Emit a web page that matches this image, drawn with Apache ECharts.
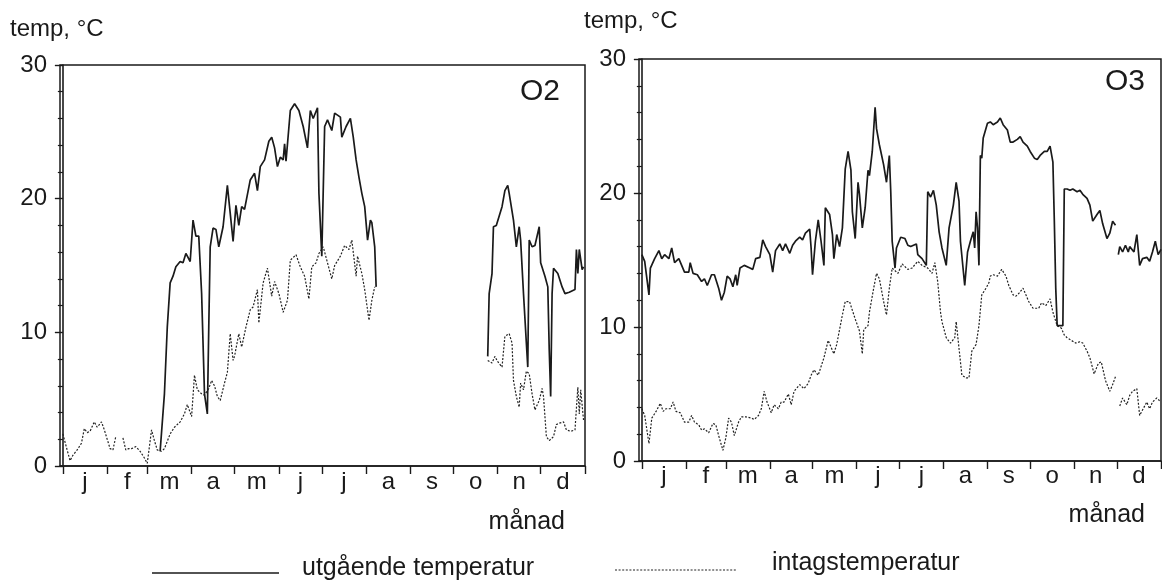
<!DOCTYPE html>
<html><head><meta charset="utf-8">
<script src="https://cdn.jsdelivr.net/npm/echarts@6/dist/echarts.min.js"></script>
<style>html,body{margin:0;padding:0;background:#fff}#c{width:1162px;height:580px}</style>
</head><body><div id="c"></div>
<script>
// ---- data ----
const monthLabels = ['j','f','m','a','m','j','j','a','s','o','n','d'];
const monthStarts = [0,31,59,90,120,151,181,212,243,273,304,334,365];
const yLabels = [0,10,20,30];
const panelNames = ['O2','O3'];
const legendNames = ['utgående temperatur','intagstemperatur'];

// [day of year, °C]; null = gap in record
const o2Out = [[68,1.1],[71,5.4],[73,10.4],[75,13.7],[77,14.2],[79,14.9],[82,15.3],[84,15.2],[86,15.9],[89,15.3],[91,18.4],[93,17.2],[95,17.2],[97,12.9],[99,5.4],[101,3.9],[102,10.4],[103,16.4],[105,17.8],[107,17.7],[109,16.4],[112,17.9],[115,21.0],[119,16.8],[121,19.5],[123,18.0],[125,19.4],[127,19.2],[131,21.4],[134,21.9],[136,20.6],[138,22.4],[141,22.9],[144,24.3],[146,24.6],[148,23.8],[150,22.4],[152,23.1],[154,22.9],[155,24.1],[156,22.8],[159,26.6],[162,27.1],[165,26.6],[168,25.4],[171,23.8],[173,26.6],[175,26.0],[178,26.8],[179,20.4],[181,15.7],[182,15.7],[183,25.4],[185,25.9],[188,25.1],[190,26.4],[194,26.1],[195,24.6],[198,25.4],[201,26.0],[203,24.6],[205,22.9],[207,21.6],[209,20.4],[211,19.4],[213,16.9],[215,18.4],[216,18.2],[218,16.4],[219,13.4],[220,null],[297,8.2],[298,12.9],[300,14.4],[301,17.9],[303,18.0],[304,17.9],[307,19.4],[309,20.6],[311,21.0],[312,20.4],[315,18.4],[317,16.4],[319,17.9],[320,16.9],[322,12.9],[324,9.2],[325,7.4],[326,16.9],[328,16.4],[330,16.5],[333,17.9],[334,15.2],[337,14.2],[339,13.4],[340,8.7],[341,5.2],[342,12.9],[343,14.8],[346,14.4],[349,13.4],[351,12.9],[354,13.0],[358,13.2],[359,16.2],[360,14.4],[361,16.2],[363,14.7],[364,14.9]];
const o2In = [[0,2.4],[2,1.6],[5,0.4],[7,0.8],[10,1.2],[13,1.7],[15,2.8],[17,2.5],[19,2.6],[22,3.3],[24,2.9],[27,3.3],[29,2.7],[31,2.0],[33,1.3],[35,1.2],[37,2.2],[38,null],[42,2.1],[44,1.2],[46,1.3],[48,1.3],[51,1.45],[54,1.1],[57,0.6],[59,0.2],[60,0.3],[62,2.7],[64,1.9],[66,1.2],[69,1.1],[71,1.3],[75,2.4],[78,2.9],[82,3.3],[85,3.9],[87,4.6],[90,3.7],[92,6.8],[94,5.7],[97,5.4],[99,5.3],[102,5.8],[104,6.4],[106,6.0],[108,5.2],[110,4.9],[113,6.2],[115,7.0],[117,9.9],[119,7.9],[120,8.2],[123,9.9],[125,8.9],[128,10.4],[131,11.7],[133,11.9],[136,13.2],[137,10.7],[140,13.7],[143,14.8],[146,12.7],[148,13.8],[151,12.9],[154,11.5],[157,12.4],[159,15.4],[163,15.8],[166,14.9],[169,14.2],[172,12.5],[174,14.9],[177,15.2],[179,15.9],[182,16.4],[185,15.2],[188,14.0],[190,15.0],[194,15.7],[197,16.5],[200,16.2],[202,16.9],[205,14.2],[206,15.7],[209,14.4],[211,13.2],[214,10.9],[216,12.4],[218,13.4],[219,null],[297,7.9],[300,7.7],[302,8.2],[304,7.8],[307,7.4],[309,9.7],[312,9.9],[314,9.2],[315,6.4],[317,5.2],[319,4.4],[320,6.2],[322,5.7],[324,7.1],[326,6.9],[328,5.4],[330,4.2],[333,4.9],[335,5.8],[336,5.2],[338,2.2],[340,1.9],[343,2.2],[345,3.1],[347,3.2],[350,3.3],[352,2.7],[355,2.6],[358,2.7],[360,5.9],[361,3.9],[362,5.7],[364,3.4]];
const o3Out = [[0,15.4],[2,14.9],[5,12.4],[6,14.4],[9,15.1],[12,15.7],[14,15.1],[16,15.4],[19,15.1],[21,15.9],[23,14.8],[26,15.1],[28,14.6],[30,14.1],[33,14.1],[34,14.8],[36,14.0],[39,13.9],[42,13.4],[44,13.6],[46,13.1],[49,13.9],[51,13.9],[54,12.9],[56,12.0],[58,12.6],[60,13.8],[62,13.6],[64,13.0],[66,13.9],[67,13.1],[69,14.4],[72,14.6],[76,14.4],[78,14.3],[80,15.1],[83,15.2],[85,16.5],[87,16.0],[90,15.4],[92,14.1],[94,15.7],[97,16.2],[99,15.7],[101,16.2],[104,15.5],[106,16.1],[108,16.4],[111,16.7],[113,16.5],[115,17.0],[118,17.3],[119,15.9],[120,13.9],[122,16.4],[124,18.0],[126,16.4],[128,14.6],[129,18.9],[132,18.4],[134,16.9],[135,15.1],[137,16.9],[139,16.0],[141,17.4],[143,21.8],[145,23.1],[147,21.7],[148,18.6],[150,16.6],[152,20.8],[153,19.9],[155,17.4],[157,18.9],[159,21.7],[160,21.3],[162,23.1],[164,26.4],[165,24.8],[167,23.6],[170,22.1],[172,20.8],[174,22.8],[175,20.1],[176,16.4],[178,14.4],[179,15.9],[182,16.7],[185,16.6],[187,16.1],[189,16.0],[193,16.2],[194,15.4],[197,15.1],[200,14.6],[201,20.1],[203,19.7],[205,20.2],[207,19.1],[209,17.1],[211,15.9],[214,14.6],[216,17.4],[219,19.1],[221,20.8],[223,19.4],[224,16.4],[227,13.1],[229,15.6],[231,16.4],[233,17.1],[234,15.9],[235,18.6],[236,17.4],[237,14.6],[238,22.8],[239,22.6],[240,24.1],[243,25.2],[245,25.3],[247,25.1],[250,25.3],[252,25.6],[254,25.1],[257,24.7],[259,23.8],[261,23.8],[264,24.0],[266,24.2],[268,23.8],[271,23.5],[273,23.1],[276,22.6],[278,22.5],[280,22.8],[283,23.1],[285,23.1],[287,23.5],[289,22.3],[290,17.9],[291,12.9],[292,10.1],[294,10.1],[296,10.1],[297,20.3],[299,20.3],[301,20.2],[303,20.3],[306,20.1],[308,20.2],[310,19.9],[313,19.6],[315,19.1],[317,17.9],[320,18.4],[322,18.7],[324,17.7],[327,16.6],[329,17.0],[331,17.9],[333,17.6],[334,null],[335,15.4],[336,16.0],[338,15.6],[340,16.1],[342,15.6],[343,16.0],[346,15.6],[348,16.9],[350,14.6],[352,15.1],[355,15.2],[357,14.9],[359,15.6],[361,16.4],[363,15.4],[365,15.8]];
const o3In = [[0,3.9],[2,3.4],[5,1.3],[7,3.2],[10,3.7],[13,4.3],[15,3.7],[17,3.9],[20,3.9],[22,4.4],[24,3.7],[27,3.6],[30,2.9],[33,2.9],[35,3.4],[37,2.9],[40,2.7],[42,2.3],[44,2.4],[47,2.1],[50,2.8],[52,2.7],[54,1.9],[57,0.8],[59,1.7],[61,3.2],[63,2.9],[65,1.9],[68,2.9],[70,3.3],[73,3.3],[77,3.2],[79,3.1],[82,3.4],[84,3.9],[86,5.2],[88,4.4],[91,3.6],[93,4.2],[96,3.9],[98,4.4],[100,4.4],[103,5.0],[105,4.2],[107,5.2],[111,5.7],[114,5.4],[117,5.8],[119,6.4],[121,6.8],[124,6.4],[128,7.7],[131,9.0],[135,8.0],[137,8.7],[141,10.9],[143,11.9],[146,11.9],[150,10.6],[153,9.7],[155,8.0],[156,9.8],[159,10.1],[160,11.1],[163,12.9],[165,14.0],[167,13.6],[170,11.9],[172,10.9],[174,12.9],[176,14.4],[180,14.0],[183,14.7],[187,14.3],[190,14.4],[194,14.9],[197,14.6],[201,14.4],[204,14.0],[206,14.8],[208,13.4],[210,11.1],[211,10.4],[214,9.2],[217,8.8],[220,9.2],[221,10.4],[223,8.4],[225,6.4],[228,6.2],[230,6.2],[232,8.2],[235,8.7],[237,10.1],[239,12.4],[242,12.9],[244,13.3],[245,13.8],[247,13.9],[250,13.8],[253,14.3],[256,13.8],[258,13.1],[261,12.4],[263,12.3],[265,12.5],[268,12.9],[270,12.4],[272,11.9],[275,11.4],[279,11.4],[281,11.8],[284,11.6],[287,12.1],[289,11.1],[292,10.1],[295,9.9],[297,9.4],[299,9.2],[302,9.0],[305,8.8],[308,8.9],[310,8.8],[313,8.2],[315,7.7],[318,6.5],[321,7.3],[323,7.4],[326,6.0],[329,5.2],[331,5.7],[333,6.3],[334,null],[336,4.1],[338,4.7],[341,4.2],[343,4.9],[345,5.2],[348,5.4],[350,3.4],[352,3.8],[355,4.4],[357,3.9],[359,4.4],[362,4.7],[364,4.5]];

// ---- chart ----
const FONT = '"Liberation Sans", Arial, Helvetica, sans-serif';
const INK = '#1a1a1a';
const monthMids = monthStarts.slice(0, 12).map((s, i) => (s + monthStarts[i + 1]) / 2);

const grids = [
  { left: 60, right: 577, top: 65, bottom: 114, show: true, borderColor: INK, borderWidth: 1.5, backgroundColor: 'transparent' },
  { left: 639, right: 1, top: 59, bottom: 119, show: true, borderColor: INK, borderWidth: 1.5, backgroundColor: 'transparent' }
];
const labelMargins = [4, 3];

const xAxes = grids.map((g, i) => ({
  type: 'value', gridIndex: i, min: -2, max: 365,
  axisLine: { show: true, onZero: false, lineStyle: { color: INK, width: 1.6 } },
  axisTick: { show: true, inside: false, length: 8, customValues: monthStarts, lineStyle: { color: INK, width: 1.4 } },
  axisLabel: {
    customValues: monthMids, margin: labelMargins[i], fontSize: 24, color: INK, fontFamily: FONT,
    formatter: v => monthLabels[monthMids.indexOf(v)] || ''
  },
  splitLine: { show: false }
}));
const yAxes = grids.map((g, i) => ({
  type: 'value', gridIndex: i, min: 0, max: 30, interval: 10,
  axisLine: { show: true, lineStyle: { color: INK, width: 1.6 } },
  axisTick: { show: true, inside: false, length: 8, lineStyle: { color: INK, width: 1.4 } },
  minorTick: { show: true, splitNumber: 5, length: 5, lineStyle: { color: INK, width: 1.2 } },
  axisLabel: { margin: 13, fontSize: 24, color: INK, fontFamily: FONT,
    formatter: v => yLabels.includes(v) ? String(v) : '' },
  splitLine: { show: false }
}));

const solidStyle = { color: INK, width: 1.7, type: 'solid' };
const dotStyle = { color: '#222', width: 1.2, type: [2, 1.6] };
function mk(name, data, idx, style) {
  return { name, type: 'line', xAxisIndex: idx, yAxisIndex: idx, data, showSymbol: false, symbol: 'none',
    connectNulls: false, lineStyle: style, itemStyle: { color: style.color }, silent: true, z: style.type === 'solid' ? 3 : 2 };
}
const series = [
  mk(legendNames[1], o2In, 0, dotStyle),
  mk(legendNames[0], o2Out, 0, solidStyle),
  mk(legendNames[1], o3In, 1, dotStyle),
  mk(legendNames[0], o3Out, 1, solidStyle)
];

function txt(x, y, text, size, align) {
  return { type: 'text', x, y, style: { text, fill: INK, font: size + 'px ' + FONT, textAlign: align || 'left', textVerticalAlign: 'middle' } };
}
const graphic = [
  txt(10, 29, 'temp, °C', 24),
  txt(584, 21, 'temp, °C', 24),
  txt(520, 92, panelNames[0], 30),
  txt(1105, 82, panelNames[1], 30),
  txt(565, 522, 'månad', 25, 'right'),
  txt(1145, 515, 'månad', 25, 'right'),
  { type: 'line', shape: { x1: 152, y1: 573, x2: 279, y2: 573 }, style: { stroke: INK, lineWidth: 1.7 } },
  txt(302, 568, legendNames[0], 25),
  { type: 'line', shape: { x1: 615, y1: 570, x2: 736, y2: 570 }, style: { stroke: '#222', lineWidth: 1.2, lineDash: [2, 1.6] } },
  txt(772, 563, legendNames[1], 25)
];

const chart = echarts.init(document.getElementById('c'), null, { renderer: 'canvas' });
chart.setOption({
  animation: false,
  backgroundColor: '#fff',
  grid: grids, xAxis: xAxes, yAxis: yAxes, series, graphic
});
</script></body></html>
